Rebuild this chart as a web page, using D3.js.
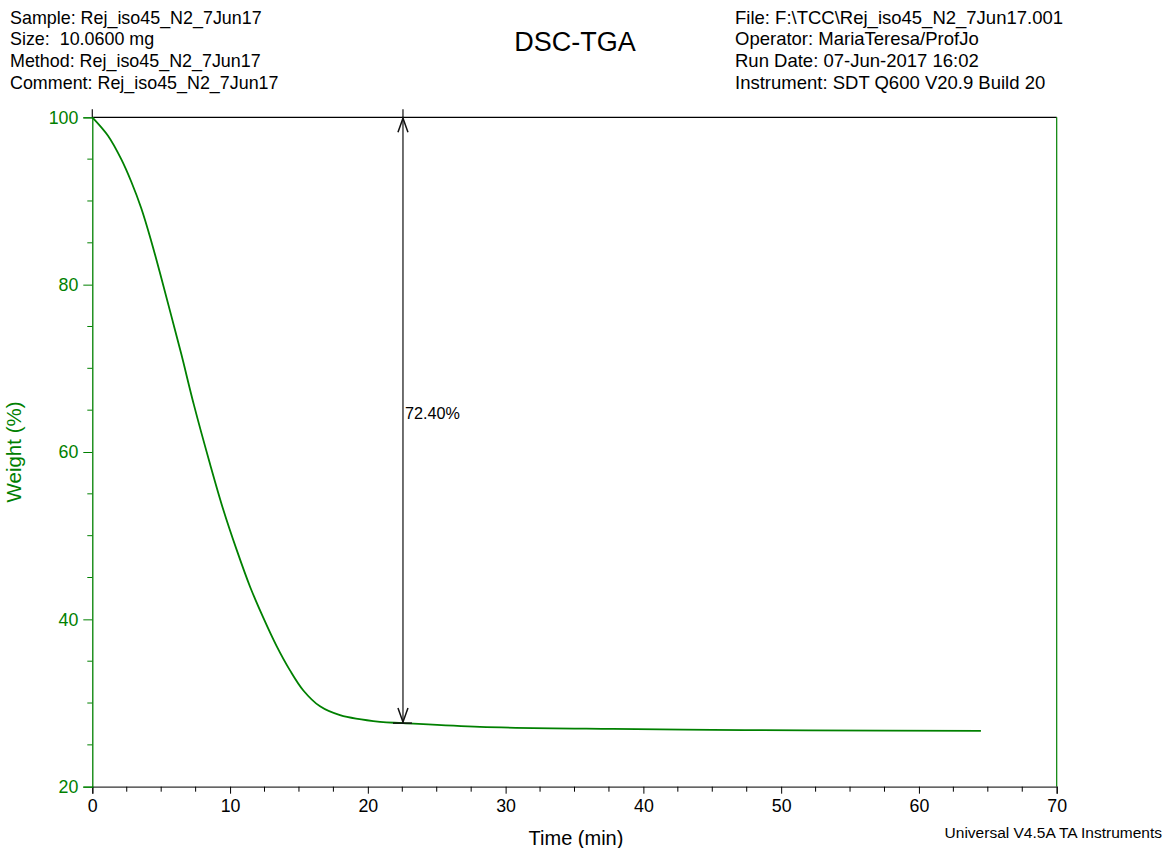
<!DOCTYPE html>
<html>
<head>
<meta charset="utf-8">
<script src="https://cdn.jsdelivr.net/npm/d3@7"></script>
<style>
  html, body { margin: 0; padding: 0; background: #fff; }
  svg { display: block; font-family: "Liberation Sans", Arial, sans-serif; }
</style>
</head>
<body>
<svg id="chart" width="1166" height="848"></svg>
<script>
// ---- Data ----
const timeMin = [0, 1.14, 2.10, 2.83, 3.56, 4.28, 5.01, 5.73, 6.46, 7.38, 8.54, 9.51, 10.48, 11.45, 12.41, 13.38, 14.35, 15.32, 16.53, 17.98, 20.88, 22.55, 28.14, 37.8, 45.0, 52.0, 64.5];
const weightPct = [100, 97.8, 95.0, 92.3, 89.1, 85.2, 80.8, 76.3, 71.7, 65.6, 58.6, 53.1, 48.3, 43.9, 40.2, 36.8, 33.9, 31.5, 29.6, 28.55, 27.75, 27.6, 27.15, 26.9, 26.8, 26.72, 26.68];
const xTicks = [0, 10, 20, 30, 40, 50, 60, 70];
const yTicks = [20, 40, 60, 80, 100];
const stepTime = 22.55;
const stepTop = 100;
const stepBottom = 27.6;
const stepLabel = "72.40%";
const headerLeft = ["Sample: Rej_iso45_N2_7Jun17", "Size:  10.0600 mg", "Method: Rej_iso45_N2_7Jun17", "Comment: Rej_iso45_N2_7Jun17"];
const headerRight = ["File: F:\\TCC\\Rej_iso45_N2_7Jun17.001", "Operator: MariaTeresa/ProfJo", "Run Date: 07-Jun-2017 16:02", "Instrument: SDT Q600 V20.9 Build 20"];
const title = "DSC-TGA";
const footer = "Universal V4.5A TA Instruments";

// ---- Layout ----
const svg = d3.select("#chart");
const green = "#008000";
const pL = 92.3, pR = 1056.7, pT = 117.3, pB = 786.7;
const x = d3.scaleLinear().domain([0, 70]).range([pL, pR]);
const y = d3.scaleLinear().domain([20, 100]).range([pB, pT]);

// header text
svg.append("g").selectAll("text").data(headerLeft).join("text")
  .attr("x", 10).attr("y", (d, i) => 23.5 + i * 21.8)
  .attr("font-size", 17.9).attr("fill", "#000")
  .style("white-space", "pre").attr("xml:space", "preserve")
  .text(d => d);
svg.append("g").selectAll("text").data(headerRight).join("text")
  .attr("x", 735).attr("y", (d, i) => 23.5 + i * 21.8)
  .attr("font-size", 18.5).attr("fill", "#000")
  .text(d => d);
svg.append("text").attr("x", 575).attr("y", 51).attr("text-anchor", "middle")
  .attr("font-size", 27).attr("fill", "#000").text(title);
svg.append("text").attr("x", 1162).attr("y", 838).attr("text-anchor", "end")
  .attr("font-size", 15.5).attr("fill", "#000").text(footer);

// frame: top line black, right line green
svg.append("line").attr("x1", pL).attr("x2", pR).attr("y1", pT).attr("y2", pT)
  .attr("stroke", "#000").attr("stroke-width", 1.2);
svg.append("line").attr("x1", pR).attr("x2", pR).attr("y1", pT).attr("y2", pB)
  .attr("stroke", green).attr("stroke-width", 1.2);

// x axis
const xAxis = d3.axisBottom(x).tickValues(xTicks).tickSize(7).tickPadding(6).tickFormat(d3.format("d"));
const gx = svg.append("g").attr("transform", `translate(0,${pB})`).call(xAxis);
gx.select(".domain").attr("stroke", "#333").attr("stroke-width", 1.3);
gx.selectAll(".tick line").attr("stroke", "#000");
gx.selectAll(".tick text").attr("font-size", 17.8).attr("fill", "#000")
  .attr("font-family", "Liberation Sans, Arial, sans-serif");
const xMinor = d3.range(0, 70.01, 2.5).filter(v => v % 10 !== 0);
gx.append("g").selectAll("line").data(xMinor).join("line")
  .attr("x1", d => x(d)).attr("x2", d => x(d)).attr("y1", 0).attr("y2", 5)
  .attr("stroke", "#000");

// y axis
const yAxis = d3.axisLeft(y).tickValues(yTicks).tickSize(9).tickPadding(5).tickFormat(d3.format("d"));
const gy = svg.append("g").attr("transform", `translate(${pL},0)`).call(yAxis);
gy.select(".domain").attr("stroke", green).attr("stroke-width", 1.3);
gy.selectAll(".tick line").attr("stroke", green);
gy.selectAll(".tick text").attr("font-size", 17.8).attr("fill", green)
  .attr("font-family", "Liberation Sans, Arial, sans-serif");
const yMinor = d3.range(20, 100.01, 5).filter(v => v % 20 !== 0);
gy.append("g").selectAll("line").data(yMinor).join("line")
  .attr("x1", -5).attr("x2", 0).attr("y1", d => y(d)).attr("y2", d => y(d))
  .attr("stroke", green);

// axis titles
svg.append("text").attr("x", 576).attr("y", 845).attr("text-anchor", "middle")
  .attr("font-size", 20).attr("fill", "#000").text("Time (min)");
svg.append("text").attr("transform", `translate(21,${(pT + pB) / 2}) rotate(-90)`)
  .attr("text-anchor", "middle").attr("font-size", 20.5).attr("fill", green).text("Weight (%)");

// curve
const pts = timeMin.map((t, i) => [t, weightPct[i]]);
svg.append("path").datum(pts)
  .attr("d", d3.line().x(d => x(d[0])).y(d => y(d[1])).curve(d3.curveCatmullRom.alpha(0.5)))
  .attr("fill", "none").attr("stroke", green).attr("stroke-width", 1.8);

// step analysis markers
const sx = x(stepTime), sTop = y(stepTop), sBot = y(stepBottom);
const ink = "#111";
svg.append("line").attr("x1", sx).attr("x2", sx).attr("y1", sTop - 8).attr("y2", sBot)
  .attr("stroke", ink).attr("stroke-width", 1.2);
// start tick at time 0
svg.append("line").attr("x1", x(0)).attr("x2", x(0)).attr("y1", sTop - 8).attr("y2", sTop)
  .attr("stroke", ink).attr("stroke-width", 1.2);
// bottom crossbar
svg.append("line").attr("x1", sx - 10).attr("x2", sx + 9).attr("y1", sBot).attr("y2", sBot)
  .attr("stroke", ink).attr("stroke-width", 1.5);
// arrowheads (open)
const ah = 15, aw = 5;
svg.append("path").attr("d", `M${sx - aw},${sTop + ah} L${sx},${sTop + 1} L${sx + aw},${sTop + ah}`)
  .attr("fill", "none").attr("stroke", ink).attr("stroke-width", 1.5);
svg.append("path").attr("d", `M${sx - aw},${sBot - ah} L${sx},${sBot - 1} L${sx + aw},${sBot - ah}`)
  .attr("fill", "none").attr("stroke", ink).attr("stroke-width", 1.5);
svg.append("text").attr("x", sx + 2).attr("y", y((stepTop + stepBottom) / 2) - 1)
  .attr("font-size", 16.2).attr("fill", "#000").text(stepLabel);
</script>
</body>
</html>
